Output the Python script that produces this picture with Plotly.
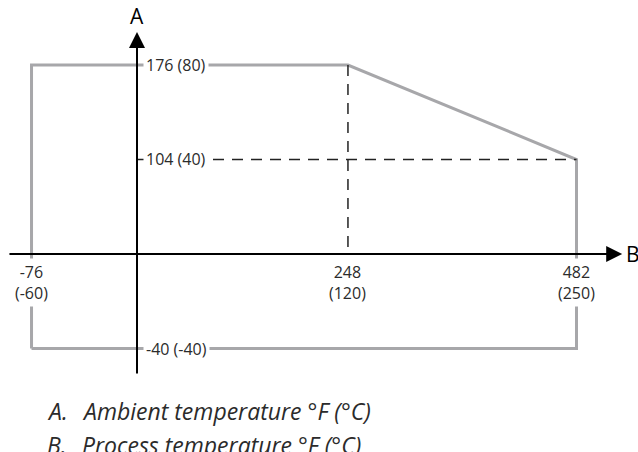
import plotly.graph_objects as go

# Data (in °C, the axes are linear in Celsius)
boundary_x_c = [-60, -60, 120, 250, 250, -60]
boundary_y_c = [-40, 80, 80, 40, -40, -40]
dash_h_x = [0, 250]
dash_h_y = [40, 40]
dash_v_x = [120, 120]
dash_v_y = [80, 0]
x_tick_vals = [-60, 120, 250]
x_tick_labels = ["-76<br>(-60)", "248<br>(120)", "482<br>(250)"]
y_tick_vals = [80, 40, -40]
y_tick_labels = ["176 (80)", "104 (40)", "-40 (-40)"]
x_axis_span = [-73.4, 276]
y_axis_span = [-51.2, 94]
captions = [("A.", "Ambient temperature °F (°C)"), ("B.", "Process temperature °F (°C)")]

FONT = "Open Sans"
GREY = "#a7a7aa"
TXT = "#2b2b2b"

fig = go.Figure()
fig.add_trace(go.Scatter(x=boundary_x_c, y=boundary_y_c, mode="lines",
                         line=dict(color=GREY, width=3), hoverinfo="skip"))
fig.add_trace(go.Scatter(x=dash_h_x, y=dash_h_y, mode="lines",
                         line=dict(color="#222", width=1.5, dash="11px,8px"), hoverinfo="skip"))
fig.add_trace(go.Scatter(x=dash_v_x, y=dash_v_y, mode="lines",
                         line=dict(color="#222", width=1.5, dash="11px,8px"), hoverinfo="skip"))

anns = []
# axes as arrows
anns.append(dict(x=x_axis_span[1], y=0, ax=x_axis_span[0], ay=0, xref="x", yref="y",
                 axref="x", ayref="y", text="", showarrow=True, arrowhead=2,
                 arrowsize=1.6, arrowwidth=2, arrowcolor="black", standoff=0))
anns.append(dict(x=0, y=y_axis_span[1], ax=0, ay=y_axis_span[0], xref="x", yref="y",
                 axref="x", ayref="y", text="", showarrow=True, arrowhead=2,
                 arrowsize=1.6, arrowwidth=2, arrowcolor="black", standoff=0))
anns.append(dict(x=0, y=y_axis_span[1], xref="x", yref="y", text="A", showarrow=False,
                 yanchor="bottom", yshift=0, font=dict(family=FONT, size=21, color="black")))
anns.append(dict(x=x_axis_span[1], y=0, xref="x", yref="y", text="B", showarrow=False,
                 xanchor="left", xshift=2, font=dict(family=FONT, size=21, color="black")))

for v, t in zip(y_tick_vals, y_tick_labels):
    anns.append(dict(x=0, y=v, xref="x", yref="y", text=t, showarrow=False,
                     xanchor="left", xshift=6, bgcolor="white", borderpad=2,
                     font=dict(family=FONT, size=16, color=TXT)))
for v, t in zip(x_tick_vals, x_tick_labels):
    anns.append(dict(x=v, y=0, xref="x", yref="y", text=t, showarrow=False,
                     yanchor="top", yshift=-4, bgcolor="white", borderpad=2,
                     font=dict(family=FONT, size=16, color=TXT)))

for i, (lab, txt) in enumerate(captions):
    ypx = 411 + 34 * i
    anns.append(dict(x=45 / 638, y=1 - ypx / 452, xref="paper", yref="paper", text=f"<i>{lab}</i>",
                     showarrow=False, xanchor="left", yanchor="middle",
                     font=dict(family=FONT, size=23, color=TXT)))
    anns.append(dict(x=80 / 638, y=1 - ypx / 452, xref="paper", yref="paper", text=f"<i>{txt}</i>",
                     showarrow=False, xanchor="left", yanchor="middle",
                     font=dict(family=FONT, size=23, color=TXT)))

fig.update_layout(
    width=638, height=452, margin=dict(l=0, r=0, t=0, b=0),
    paper_bgcolor="white", plot_bgcolor="white", showlegend=False,
    xaxis=dict(range=[-77.93, 284.98], visible=False, fixedrange=True),
    yaxis=dict(range=[-83.81, 107.51], visible=False, fixedrange=True),
    annotations=anns,
)
fig.write_html("out.html", config={"displayModeBar": False},
               post_script="document.body.style.margin='0';document.body.style.overflow='hidden';")
